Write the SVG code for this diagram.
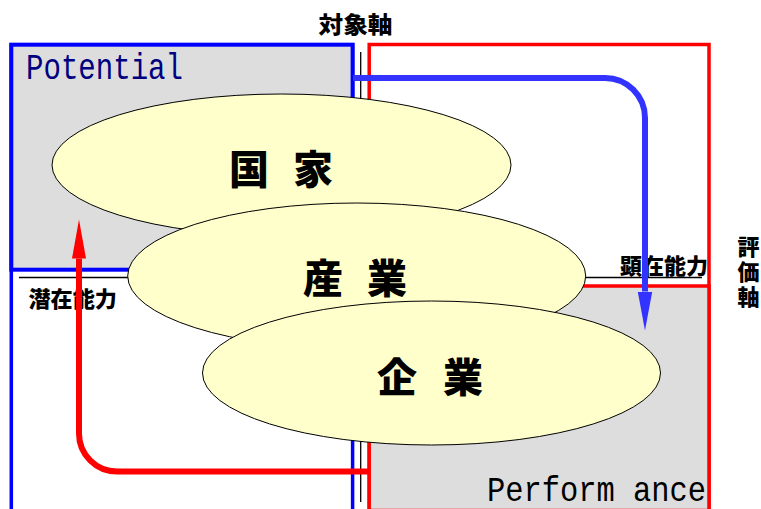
<svg xmlns="http://www.w3.org/2000/svg" width="761" height="509" viewBox="0 0 761 509">
<style>
.jp{font-family:"Noto Sans CJK JP","Noto Sans CJK SC",sans-serif;font-weight:900;fill:#000}
.big{font-size:40px}
.lbl{font-size:22px}
.mono{font-family:"Liberation Mono","DejaVu Sans Mono",monospace;font-size:29px}
.ell{fill:#FFFFCC;stroke:#000;stroke-width:1}
.axis{stroke:#000;stroke-width:1.3;fill:none}
</style>
<defs>
<marker id="ahBlue" markerUnits="userSpaceOnUse" markerWidth="40" markerHeight="16" refX="0" refY="8" orient="auto">
<path d="M0,0.7 L39,8 L0,15.3 Z" fill="#3333FF"/>
</marker>
<marker id="ahRed" markerUnits="userSpaceOnUse" markerWidth="40" markerHeight="16" refX="0" refY="8" orient="auto">
<path d="M0,1 L39,8 L0,15 Z" fill="#FF0000"/>
</marker>
</defs>
<rect width="761" height="509" fill="#fff"/>
<g id="potential">
<rect x="11.3" y="44.7" width="341.3" height="480" fill="#fff" stroke="#0000FF" stroke-width="3.5"/>
<rect x="11.3" y="44.7" width="341.3" height="225" fill="#DDDDDD" stroke="#0000FF" stroke-width="4"/>
<text class="mono" x="26" y="79" fill="#000080" textLength="157" lengthAdjust="spacingAndGlyphs" transform="matrix(1 0 0 1.25 0 -19.75)">Potential</text>
</g>
<g id="performance">
<rect x="369.2" y="44.5" width="339.8" height="466" fill="#fff" stroke="#FF0000" stroke-width="3.5"/>
<rect x="369.2" y="286" width="339.8" height="224.5" fill="#DDDDDD" stroke="#FF0000" stroke-width="3.5"/>
<text class="mono" x="487" y="501" fill="#000" textLength="219" lengthAdjust="spacingAndGlyphs" transform="matrix(1 0 0 1.2 0 -100.2)">Perform ance</text>
</g>
<g id="axes">
<line class="axis" x1="360.7" y1="52" x2="360.7" y2="502"/>
<line class="axis" x1="19" y1="277.5" x2="702" y2="277.5"/>
<text class="jp" x="355.5" y="32.5" font-size="23" text-anchor="middle" textLength="74" lengthAdjust="spacingAndGlyphs">対象軸</text>
<text class="jp lbl" x="620" y="273.5" textLength="88" lengthAdjust="spacingAndGlyphs">顕在能力</text>
<text class="jp lbl" x="28.5" y="306.5" textLength="88.5" lengthAdjust="spacingAndGlyphs">潜在能力</text>
<text class="jp lbl" x="748.5" y="235.5" writing-mode="vertical-rl" letter-spacing="3">評価軸</text>
</g>
<g id="kokka">
<ellipse class="ell" cx="281.5" cy="165" rx="229.5" ry="71"/>
<text class="jp big" y="184"><tspan x="229">国 </tspan><tspan x="293">家</tspan></text>
</g>
<g id="sangyo">
<ellipse class="ell" cx="356.7" cy="276" rx="229" ry="73"/>
<text class="jp big" y="293"><tspan x="303">産 </tspan><tspan x="367">業</tspan></text>
</g>
<g id="kigyo">
<ellipse class="ell" cx="431.5" cy="373" rx="229" ry="72"/>
<text class="jp big" y="391.5"><tspan x="377">企 </tspan><tspan x="443">業</tspan></text>
</g>
<g id="connectors" fill="none">
<path d="M353,78 H605 A40,40 0 0 1 645,118 V291.5" stroke="#3333FF" stroke-width="6" marker-end="url(#ahBlue)"/>
<path d="M369,471.5 H117 A38,38 0 0 1 79,433.5 V258.5" stroke="#FF0000" stroke-width="6" marker-end="url(#ahRed)"/>
</g>
</svg>
